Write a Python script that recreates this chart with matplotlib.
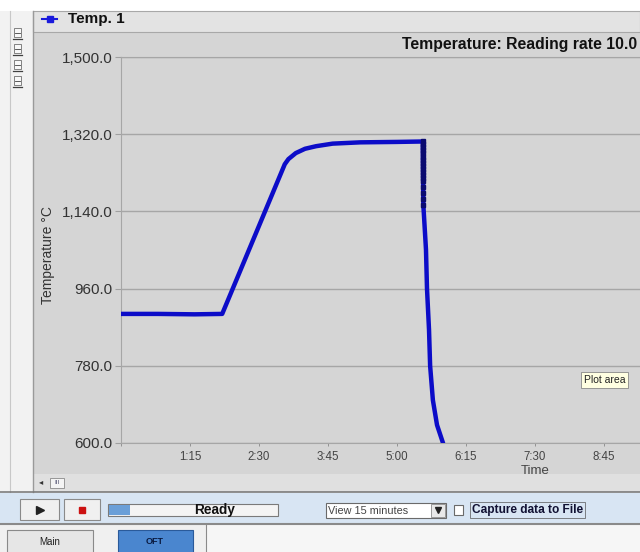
import matplotlib
matplotlib.use("Agg")
import matplotlib.pyplot as plt
from matplotlib.patches import Rectangle
from matplotlib.ticker import FuncFormatter

plt.rcParams["font.family"] = ["Liberation Sans", "DejaVu Sans"]

# Temp. 1 readings: seconds from start, degrees C
time_s = [0, 40, 80, 110, 178, 182, 190, 200, 212, 230, 260, 300, 328,
          328.6, 331.5, 332.6, 334.8, 336, 339, 343.5, 350, 353]
temp_c = [901, 901, 900, 901, 1250, 1262, 1276, 1286, 1292, 1298, 1301, 1302, 1303,
          1156, 1051, 960, 864, 780, 700, 642, 600, 565]

# sparse readings at the start of the drop (shown as dots)
drop_t = [328.0, 328.0, 328.1, 328.1, 328.1, 328.2, 328.2, 328.2, 328.3, 328.3,
          328.3, 328.4, 328.4, 328.4, 328.5, 328.5, 328.5, 328.6]
drop_c = [1303, 1296, 1289, 1282, 1275, 1268, 1261, 1254, 1247, 1240,
          1233, 1226, 1219, 1212, 1198, 1184, 1170, 1156]

y_ticks = [600, 780, 960, 1140, 1320, 1500]
x_ticks = [0, 75, 150, 225, 300, 375, 450, 525]
view_seconds = 900

W, H = 640, 552
fig = plt.figure(figsize=(W / 100, H / 100), dpi=100)
fig.patch.set_facecolor("white")

# background "window" drawn in pixel coordinates
bg = fig.add_axes([0, 0, 1, 1], zorder=0)
bg.set_xlim(0, W)
bg.set_ylim(H, 0)
bg.axis("off")


def box(x, y, w, h, fc, ec="none", lw=1.0, z=1):
    bg.add_patch(Rectangle((x, y), w, h, facecolor=fc, edgecolor=ec, linewidth=lw, zorder=z))


# left tool strip
box(0, 11, 33, 480, "#f2f2f2")
bg.plot([33, 33], [11, 492], color="#9a9a9a", lw=1)
bg.plot([10, 10], [11, 492], color="#c8c8c8", lw=0.8)
for yy in (28, 44, 60, 76):
    box(14, yy, 7, 9, "#f8f8f8", "#707070", 0.6, z=2)
    bg.plot([15, 20], [yy + 4.5, yy + 4.5], color="#404040", lw=0.6, zorder=3)
    bg.plot([13, 22], [yy + 11, yy + 11], color="#404040", lw=0.9, zorder=3)

# chart panel and legend header
box(33, 32, W - 33, 460, "#d5d5d5")
box(33, 11, W - 33, 21, "#e3e3e3", "#a8a8a8", 0.8)
bg.plot([42, 57], [19, 19], color="#1a1adc", lw=1.5, zorder=3)
bg.plot([49.5], [19], marker="s", ms=5, color="#1a1adc", zorder=4)
bg.text(68, 19, "Temp. 1", fontsize=11, fontweight="bold", va="center", ha="left",
        color="#111111", zorder=4)

# scroll strip and control bar
box(33, 474, W - 33, 18, "#e0e0e0")
bg.text(41, 483, "◂", fontsize=6, va="center", ha="center", color="#333333", zorder=3)
box(50, 478, 14, 10, "#f4f4f4", "#8a8a8a", 0.6, z=2)
bg.text(57, 483, "III", fontsize=4.5, va="center", ha="center", color="#444466", zorder=3)
bg.plot([0, W], [492, 492], color="#7a7a7a", lw=1.2)
box(0, 493, W, 30, "#d8e5f3")
bg.plot([0, W], [523.5, 523.5], color="#8a8a8a", lw=1.5)

# play / stop buttons
box(20, 499, 39, 21, "#f0f0f0", "#8a8a8a", 0.8, z=2)
bg.plot([39.5], [509.5], marker=">", ms=6, color="#222222", zorder=3)
box(64, 499, 36, 21, "#f0f0f0", "#8a8a8a", 0.8, z=2)
bg.plot([82], [509.5], marker="s", ms=5, color="#cc1111", zorder=3)

# progress bar
box(108, 504, 170, 12, "#f4f4f4", "#7a7a7a", 0.8, z=2)
box(109, 505, 21, 10, "#6a9fd8", z=3)
bg.text(215, 510, "Ready", fontsize=9.8, fontweight="bold", va="center", ha="center",
        color="#111111", zorder=4)

# view dropdown and capture checkbox
box(326, 503, 120, 15, "white", "#6a6a6a", 0.8, z=2)
box(431, 504, 14, 13, "#e8e8e8", "#8a8a8a", 0.6, z=3)
bg.plot([438], [510], marker="v", ms=4, color="#222222", zorder=4)
bg.text(328, 510.5, "View 15 minutes", fontsize=7.8, va="center", ha="left",
        color="#444444", zorder=4)
box(454, 505, 9, 10, "white", "#6a6a6a", 0.8, z=2)
box(470, 502, 115, 16, "#d8e5f3", "#555555", 0.5, z=2)
bg.text(472, 510, "Capture data to File", fontsize=8.6, fontweight="bold", va="center",
        ha="left", color="#111133", zorder=4)

# bottom tabs
box(0, 524, W, 28, "#f0f0f0")
box(7, 530, 86, 24, "#e6e6e6", "#8a8a8a", 0.8, z=2)
bg.text(50, 542, "Main", fontsize=7, va="center", ha="center", color="#222222", zorder=3)
box(118, 530, 75, 24, "#4a86cf", "#2a5a9a", 0.8, z=2)
bg.text(155, 541, "OFT", fontsize=6.5, fontweight="bold", va="center", ha="center",
        color="#0a1a40", zorder=3)
bg.plot([206, 206], [524, 552], color="#8a8a8a", lw=0.8)
box(207, 525, W - 207, 27, "#f6f6f6")

# title line above plot area
fig.text(0.996, 1 - 44 / H, "Temperature: Reading rate 10.0", fontsize=11.3,
         fontweight="bold", ha="right", va="center", color="#111111")

# plot area (15 minute view runs past the right edge of the window)
px_per_s = 69 / 75
left, top, bottom = 121, 57, 443
ax = fig.add_axes([left / W, 1 - bottom / H, view_seconds * px_per_s / W, (bottom - top) / H],
                  zorder=2)
ax.set_facecolor("#d5d5d5")
ax.plot(time_s, temp_c, color="#0c0cc8", lw=3.2, solid_capstyle="butt", zorder=3)
ax.plot(drop_t, drop_c, linestyle="none", marker="s", ms=2.6, color="#0a0a70", zorder=4)

ax.set_xlim(0, view_seconds)
ax.set_ylim(y_ticks[0], y_ticks[-1])
ax.set_yticks(y_ticks)
ax.yaxis.set_major_formatter(FuncFormatter(lambda v, p: f"{v:,.1f}"))
ax.set_xticks(x_ticks)
ax.xaxis.set_major_formatter(
    FuncFormatter(lambda v, p: "" if v <= 0 else f"{int(v) // 60}:{int(v) % 60:02d}"))
ax.grid(axis="y", color="#a6a6a6", lw=1.0)
ax.tick_params(axis="y", length=4, width=0.8, color="#a0a0a0", pad=2, labelsize=11,
               labelcolor="#333333")
ax.tick_params(axis="x", length=2, width=0.6, color="#888888", pad=4, labelsize=8.3,
               labelcolor="#444444")
for side in ("top", "left", "bottom"):
    ax.spines[side].set_color("#a6a6a6")
ax.spines["right"].set_visible(False)
ax.set_xlabel("Time", fontsize=9.5, color="#444444", labelpad=1)
fig.text(48 / W, 1 - 255 / H, "Temperature °C", rotation=90, fontsize=10,
         ha="center", va="center", color="#333333")

# hover tooltip
fig.text(584 / W, 1 - 380 / H, "Plot area", fontsize=7.5, ha="left", va="center",
         color="#222222", zorder=5,
         bbox=dict(boxstyle="square,pad=0.25", facecolor="#ffffe1", edgecolor="#888888",
                   linewidth=0.6))

fig.savefig("out.png", dpi=100)
